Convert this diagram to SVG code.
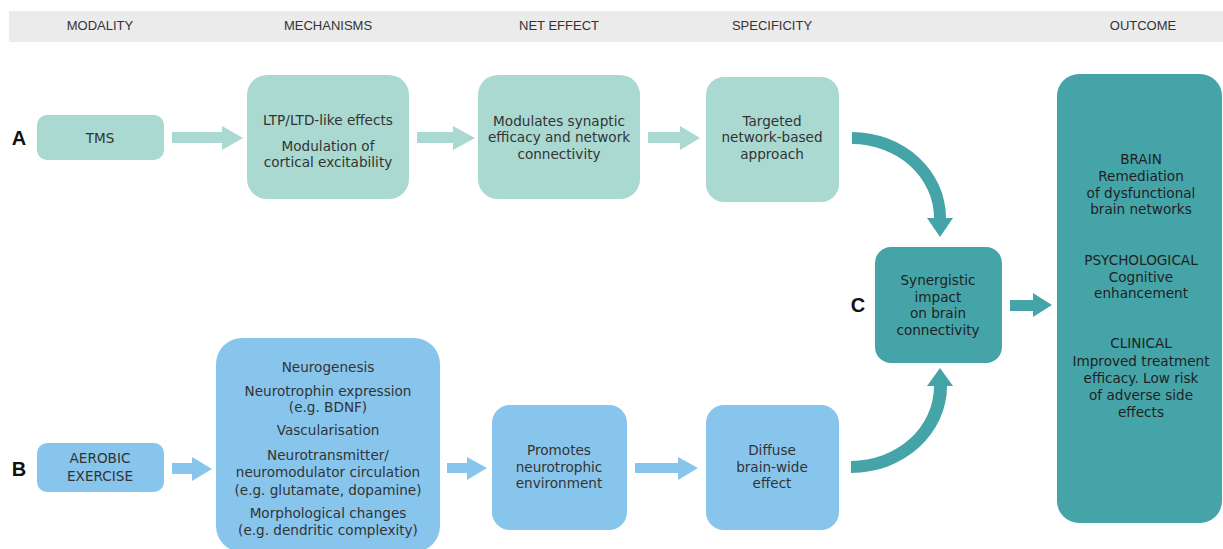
<svg xmlns="http://www.w3.org/2000/svg" width="1223" height="549" viewBox="0 0 1223 549">
<style>
.hdr{font-family:"Liberation Sans",Arial,sans-serif;font-size:13px;fill:#333;text-anchor:middle}
.t{font-family:"DejaVu Sans","Liberation Sans",sans-serif;font-size:13.6px;fill:#333;text-anchor:middle}
.td{font-family:"DejaVu Sans","Liberation Sans",sans-serif;font-size:13.6px;fill:#1f1f1f;text-anchor:middle}
.lbl{font-family:"Liberation Sans",Arial,sans-serif;font-size:20px;font-weight:bold;fill:#111;text-anchor:middle}
.teal{fill:#a9d9d0}
.blue{fill:#87c5ed}
.dark{fill:#45a4a8}
</style>
<rect x="9" y="11" width="1214" height="31" fill="#ebebeb"/>
<g id="headers">
<text class="hdr" x="100" y="30">MODALITY</text>
<text class="hdr" x="328" y="30">MECHANISMS</text>
<text class="hdr" x="559" y="30">NET EFFECT</text>
<text class="hdr" x="772" y="30">SPECIFICITY</text>
<text class="hdr" x="1143" y="30">OUTCOME</text>
</g>
<text class="lbl" x="19" y="145">A</text>
<text class="lbl" x="19" y="476">B</text>
<text class="lbl" x="858" y="312">C</text>
<g id="connectors">
<path class="teal" d="M172,132H222V126L243,138L222,150V143H172Z"/>
<path class="teal" d="M417,132H453V126L475,138L453,150V143H417Z"/>
<path class="teal" d="M648,132H680V126L700,138L680,150V143H648Z"/>
<path class="blue" d="M172,463H192V457L212,469L192,481V474H172Z"/>
<path class="blue" d="M447,463H467V457L487,468L467,480V473H447Z"/>
<path class="blue" d="M635,463H678V457L698,468L678,480V473H635Z"/>
<path class="dark" d="M852,132A94,86 0 0 1 946,218L953,218L940,237L927,218L934,218A82,74 0 0 0 852,144Z"/>
<path class="dark" d="M851,473A96,87 0 0 0 947,386L953,386L940,368L927,386L934,386A83,75 0 0 1 851,461Z"/>
<path class="dark" d="M1010,300H1033V293L1052,305L1033,317V311H1010Z"/>
</g>
<g id="tms">
<rect class="teal" x="37" y="115" width="127" height="45" rx="10"/>
<text class="t" x="100" y="143">TMS</text>
</g>
<g id="mech-tms">
<rect class="teal" x="247" y="75" width="162" height="124" rx="20"/>
<text class="t" x="328" y="125">LTP/LTD-like effects</text>
<text class="t" x="328" y="151">Modulation of</text>
<text class="t" x="328" y="167">cortical excitability</text>
</g>
<g id="net-tms">
<rect class="teal" x="478" y="75" width="162" height="124" rx="20"/>
<text class="t" x="559" y="126">Modulates synaptic</text>
<text class="t" x="559" y="142">efficacy and network</text>
<text class="t" x="559" y="159">connectivity</text>
</g>
<g id="spec-tms">
<rect class="teal" x="706" y="77" width="133" height="125" rx="18"/>
<text class="t" x="772" y="126">Targeted</text>
<text class="t" x="772" y="142">network-based</text>
<text class="t" x="772" y="159">approach</text>
</g>
<g id="aerobic">
<rect class="blue" x="37" y="443" width="127" height="49" rx="10"/>
<text class="t" x="100" y="463">AEROBIC</text>
<text class="t" x="100" y="481">EXERCISE</text>
</g>
<g id="mech-aerobic">
<rect class="blue" x="216" y="338" width="224" height="214" rx="26"/>
<text class="t" x="328" y="372">Neurogenesis</text>
<text class="t" x="328" y="396">Neurotrophin expression</text>
<text class="t" x="328" y="412">(e.g. BDNF)</text>
<text class="t" x="328" y="435">Vascularisation</text>
<text class="t" x="328" y="460">Neurotransmitter/</text>
<text class="t" x="328" y="477">neuromodulator circulation</text>
<text class="t" x="328" y="495">(e.g. glutamate, dopamine)</text>
<text class="t" x="328" y="518">Morphological changes</text>
<text class="t" x="328" y="535">(e.g. dendritic complexity)</text>
</g>
<g id="net-aerobic">
<rect class="blue" x="492" y="405" width="135" height="125" rx="18"/>
<text class="t" x="559" y="455">Promotes</text>
<text class="t" x="559" y="472">neurotrophic</text>
<text class="t" x="559" y="488">environment</text>
</g>
<g id="spec-aerobic">
<rect class="blue" x="706" y="405" width="133" height="125" rx="18"/>
<text class="t" x="772" y="455">Diffuse</text>
<text class="t" x="772" y="472">brain-wide</text>
<text class="t" x="772" y="488">effect</text>
</g>
<g id="synergy">
<rect class="dark" x="875" y="247" width="127" height="116" rx="16"/>
<text class="td" x="938" y="285">Synergistic</text>
<text class="td" x="938" y="302">impact</text>
<text class="td" x="938" y="318">on brain</text>
<text class="td" x="938" y="335">connectivity</text>
</g>
<g id="outcome">
<rect class="dark" x="1057" y="74" width="165" height="449" rx="22"/>
<text class="td" x="1141" y="164">BRAIN</text>
<text class="td" x="1141" y="181">Remediation</text>
<text class="td" x="1141" y="198">of dysfunctional</text>
<text class="td" x="1141" y="214">brain networks</text>
<text class="td" x="1141" y="265">PSYCHOLOGICAL</text>
<text class="td" x="1141" y="282">Cognitive</text>
<text class="td" x="1141" y="298">enhancement</text>
<text class="td" x="1141" y="348">CLINICAL</text>
<text class="td" x="1141" y="366">Improved treatment</text>
<text class="td" x="1141" y="383">efficacy. Low risk</text>
<text class="td" x="1141" y="400">of adverse side</text>
<text class="td" x="1141" y="417">effects</text>
</g>
</svg>
